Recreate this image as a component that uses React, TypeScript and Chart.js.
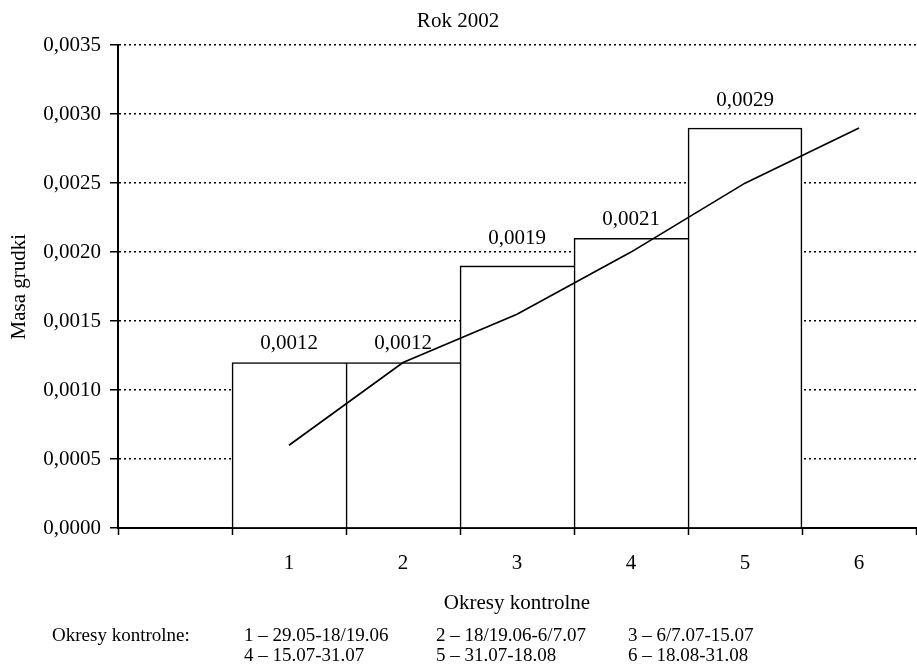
import React, { useEffect, useRef } from "react";
import { Chart, registerables } from "chart.js";

Chart.register(...registerables);

// ---- data ----
const chartTitle = "Rok 2002";
const yAxisTitle = "Masa grudki";
const xAxisTitle = "Okresy kontrolne";
const categories = ["", "1", "2", "3", "4", "5", "6"];
const barValues: (number | null)[] = [null, 0.0012, 0.0012, 0.0019, 0.0021, 0.0029, null];
const trendValues: (number | null)[] = [null, 0.0006, 0.0012, 0.00155, 0.002, 0.0025, 0.0029];
const yMin = 0;
const yMax = 0.0035;
const yStep = 0.0005;
const footnoteLabel = "Okresy kontrolne:";
const periodDescriptions = [
  "1 – 29.05-18/19.06",
  "2 – 18/19.06-6/7.07",
  "3 – 6/7.07-15.07",
  "4 – 15.07-31.07",
  "5 – 31.07-18.08",
  "6 – 18.08-31.08",
];

const FONT = "'Liberation Serif', 'Times New Roman', serif";
const fmt = (v: number) => v.toFixed(4).replace(".", ",");

let lastBarIndex = -1;
barValues.forEach((v, i) => {
  if (v != null) lastBarIndex = i;
});

const barLabelPlugin = {
  id: "barLabels",
  afterDatasetsDraw(chart: any) {
    const ctx = chart.ctx;
    const meta = chart.getDatasetMeta(1);
    const yScale = chart.scales.y;
    const gridYs = yScale.ticks.map((t: any) => yScale.getPixelForValue(t.value));
    ctx.save();
    ctx.font = `21px ${FONT}`;
    ctx.fillStyle = "#000";
    ctx.textAlign = "center";
    ctx.textBaseline = "middle";
    meta.data.forEach((el: any, i: number) => {
      const v = barValues[i];
      if (v == null) return;
      let cy = el.y - 19;
      for (const gy of gridYs) {
        if (Math.abs(cy - gy) < 10) cy = gy - 14;
      }
      ctx.fillText(fmt(v), el.x, cy);
    });
    ctx.restore();
  },
};

const footnotePlugin = {
  id: "footnote",
  afterDraw(chart: any) {
    const ctx = chart.ctx;
    ctx.save();
    ctx.font = `19px ${FONT}`;
    ctx.fillStyle = "#000";
    ctx.textAlign = "left";
    ctx.textBaseline = "middle";
    ctx.fillText(footnoteLabel, 52, 636);
    periodDescriptions.forEach((t, i) => {
      const col = i % 3;
      const row = Math.floor(i / 3);
      ctx.fillText(t, 244 + col * 192, 636 + row * 20);
    });
    ctx.restore();
  },
};

export default function App() {
  const canvasRef = useRef<HTMLCanvasElement | null>(null);

  useEffect(() => {
    document.body.style.margin = "0";
    const canvas = canvasRef.current;
    if (!canvas) return;
    const chart = new Chart(canvas, {
      type: "bar",
      data: {
        labels: categories,
        datasets: [
          {
            type: "line",
            data: trendValues as any,
            borderColor: "#000",
            borderWidth: 1.7,
            pointRadius: 0,
            fill: false,
            tension: 0,
            order: 0,
          } as any,
          {
            type: "bar",
            data: barValues as any,
            backgroundColor: "#fff",
            borderColor: "#000",
            borderWidth: (c: any) => ({
              top: 1.6,
              left: 1.6,
              bottom: 0,
              right: c.dataIndex === lastBarIndex ? 1.6 : 0,
            }),
            borderSkipped: false,
            categoryPercentage: 1,
            barPercentage: 1,
            order: 1,
          } as any,
        ],
      },
      options: {
        animation: false,
        responsive: true,
        maintainAspectRatio: false,
        layout: { padding: { left: 0, right: 1, top: 0, bottom: 0 } },
        plugins: {
          legend: { display: false },
          tooltip: { enabled: false },
          title: {
            display: true,
            text: chartTitle,
            color: "#000",
            font: { family: FONT, size: 21, weight: "normal" as any },
            padding: { top: 9, bottom: 11 },
          },
        },
        scales: {
          x: {
            type: "category",
            offset: true,
            grid: {
              offset: true,
              drawOnChartArea: false,
              drawTicks: true,
              tickLength: 7,
              tickColor: "#000",
              tickWidth: 1.5,
            },
            border: { display: true, color: "#000", width: 2 },
            ticks: {
              color: "#000",
              font: { family: FONT, size: 21 },
              padding: 16,
              maxRotation: 0,
              autoSkip: false,
            },
            title: {
              display: true,
              text: xAxisTitle,
              color: "#000",
              font: { family: FONT, size: 21 },
              padding: { top: 0, bottom: 53 },
            },
            afterFit: (s: any) => {
              s.height = 141;
            },
          },
          y: {
            min: yMin,
            max: yMax,
            ticks: {
              stepSize: yStep,
              callback: (v: any) => fmt(Number(v)),
              color: "#000",
              font: { family: FONT, size: 21 },
              padding: 9,
            },
            grid: {
              color: "#000",
              lineWidth: 1.5,
              tickLength: 8,
              tickColor: "#000",
              tickWidth: 1.5,
              tickBorderDash: [],
            } as any,
            border: { display: true, color: "#000", width: 2, dash: [2, 3] },
            title: {
              display: true,
              text: yAxisTitle,
              color: "#000",
              font: { family: FONT, size: 21 },
              padding: { top: 7, bottom: 0 },
            },
            afterFit: (s: any) => {
              s.width = 118;
            },
          },
        },
      } as any,
      plugins: [barLabelPlugin, footnotePlugin],
    });
    return () => chart.destroy();
  }, []);

  return (
    <div style={{ position: "relative", width: 917, height: 669 }}>
      <canvas ref={canvasRef} />
    </div>
  );
}
